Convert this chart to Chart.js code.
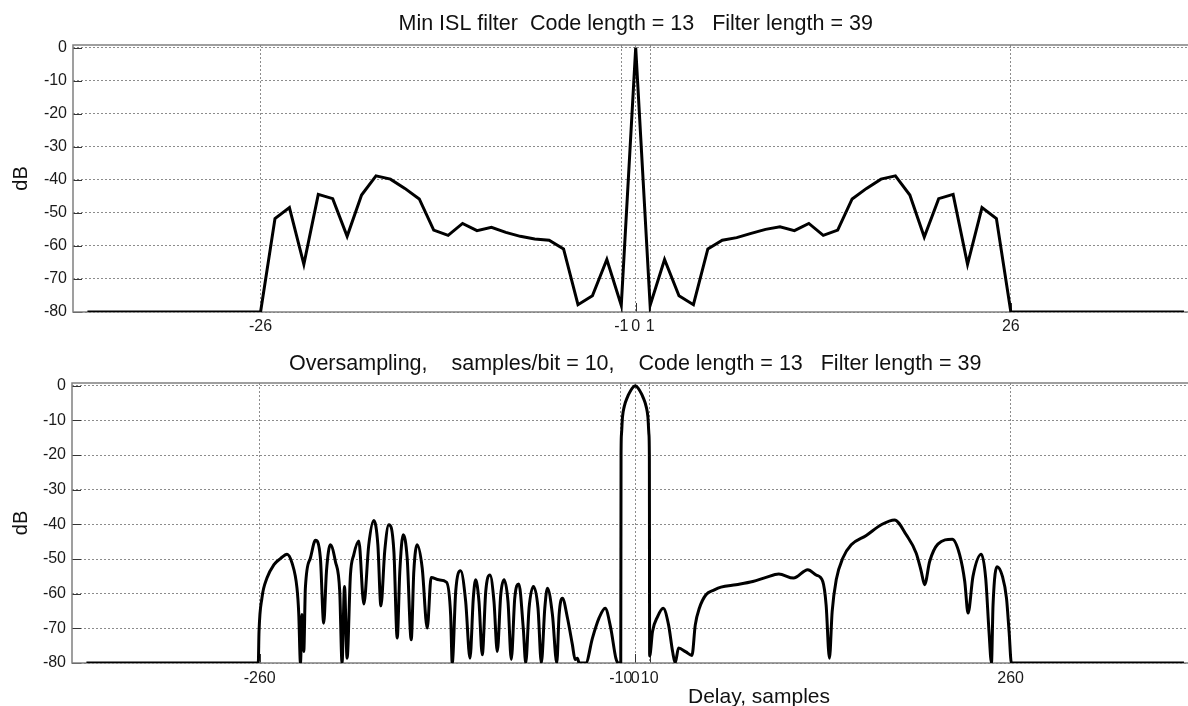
<!DOCTYPE html>
<html>
<head>
<meta charset="utf-8">
<script src="https://cdn.jsdelivr.net/npm/chart.js@4/dist/chart.umd.min.js"></script>
<style>
  html, body { margin: 0; padding: 0; background: #fff; overflow: hidden; width: 1188px; height: 706px; }
  #topChart { position: absolute; left: 0; top: 0; }
  #bottomChart { position: absolute; left: 0; top: 340px; }
  #xlabel { position: absolute; left: 688px; top: 684px; font: 21px "Liberation Sans", Arial, sans-serif; line-height: 23px; color: #111; white-space: nowrap; }
</style>
</head>
<body>
<canvas id="topChart" width="1200" height="340"></canvas>
<canvas id="bottomChart" width="1200" height="366"></canvas>
<div id="xlabel">Delay, samples</div>
<script>
const topTitle = 'Min ISL filter  Code length = 13   Filter length = 39';
const bottomTitle = 'Oversampling,    samples/bit = 10,    Code length = 13   Filter length = 39';
const yLabel = 'dB';
const yTicks = [0, -10, -20, -30, -40, -50, -60, -70, -80];
const topXTicks = [-26, -1, 0, 1, 26];
const bottomXTicks = [-260, -10, 0, 10, 260];

// top panel: one value per delay (samples)
const topDelay = [-38, -26, -25, -24, -23, -22, -21, -20, -19, -18, -17, -16, -15, -14, -13,
  -12, -11, -10, -9, -8, -7, -6, -5, -4, -3, -2, -1, 0, 1, 2, 3, 4, 5, 6, 7, 8, 9, 10,
  11, 12, 13, 14, 15, 16, 17, 18, 19, 20, 21, 22, 23, 24, 25, 26, 38];
const topDb = [-80, -80, -51.7, -48.4, -65.6, -44.4, -45.7, -57.1, -44.6, -38.8, -39.8, -42.6, -45.8, -55.2, -56.8,
  -53.2, -55.4, -54.4, -55.9, -57.1, -57.9, -58.3, -60.9, -77.8, -75.1, -64.1, -78.0, 0, -78.0, -64.1, -75.1, -77.8, -60.9, -58.3, -57.5, -56.2, -55.0, -54.2,
  -55.4, -53.2, -56.8, -55.2, -45.8, -42.6, -39.8, -38.8, -44.6, -57.3, -45.7, -44.4, -65.6, -48.4, -51.7, -80, -80];

// bottom panel: oversampled response
const bottomDelay = [-380, -261, -260.5, -258.5, -255, -250.3, -245.7, -241.1, -237.6, -234.2,
  -233, -231.8, -230.7, -229.5, -228.4, -224.9, -221.4, -218, -215.7, -213.8,
  -211.1, -207.6, -204.6, -203, -201.3, -199.5, -197.2, -194.9, -191.4, -187.9,
  -184.5, -181, -178.2, -176.1, -173.4, -170.6, -167.1, -164.8, -163, -160.7,
  -157.9, -155.1, -153.3, -151, -147.5, -144, -141.3, -135.9, -130.6, -127.8,
  -126.7, -124.3, -120.9, -117.4, -114.4, -112.1, -110.5, -108.2, -105.9, -103.5,
  -100.6, -97.8, -95.5, -93.1, -90.8, -88.1, -85.8, -83.4, -80.6, -77.5,
  -75.8, -73.5, -70.5, -67.3, -65, -62.6, -60.8, -57.3, -54.3, -52.7,
  -50.4, -46.9, -43.5, -41.6, -40, -38.8, -34.2, -29.6, -25, -20.8,
  -16.9, -13.4, -11.8, -10, -9.8, -9.5, -8.8, -7.6, -5.3, -4.2,
  -1.9, 0, 1.9, 4.2, 5.3, 7.6, 8.8, 9.5, 9.8, 10,
  12, 15.5, 19.4, 23.1, 25.9, 27.7, 30, 35.1, 39.3, 41.6,
  44.4, 49, 54.8, 59.4, 69.8, 81.4, 90.6, 99.4, 109.6, 119.5,
  125.3, 129.9, 132.2, 134.5, 136.4, 139.2, 143.8, 149.6, 160, 170.4,
  179.6, 187.7, 194.6, 198.1, 200.4, 203.9, 209.6, 219.6, 224.7, 228.2,
  230.5, 233.9, 239.7, 242.7, 245, 246.7, 247.8, 250.6, 254.3, 257.1,
  258.9, 260.5, 380];
const bottomDb = [-80, -80, -71, -61.3, -55.5, -51.7, -49.9, -48.6, -51.2, -58.4,
  -65.6, -80, -66, -76.7, -58.4, -49.7, -44.6, -49.7, -68.5, -53.6,
  -45.9, -50.7, -59.4, -80, -57.9, -78.6, -54.6, -48.8, -44.8, -63,
  -45.9, -38.9, -45.9, -63.5, -47.5, -40.1, -47.8, -72.8, -53.6, -43,
  -49.7, -73.3, -53.6, -45.9, -52.6, -69.9, -55.3, -56, -56.7, -66.1,
  -80, -59.4, -53.4, -62.2, -78.6, -61.3, -56, -62.2, -77.6, -59.4,
  -54.6, -62.2, -76.7, -60.3, -56, -62.2, -79, -61.3, -57.2, -70,
  -80, -64.2, -57.9, -64.2, -80, -64.2, -58.4, -66.1, -80, -66.1,
  -61.3, -67, -74.7, -79, -78.6, -80, -80, -72.8, -67, -64.2,
  -70, -78.6, -80, -80, -20, -14, -9, -6, -3.2, -2.2,
  -0.6, 0, -0.6, -2.2, -3.2, -6, -9, -14, -20, -78,
  -70.9, -66.6, -64.2, -69, -76.7, -80, -75.7, -76.8, -77.8, -69,
  -64.2, -60.3, -58.9, -58.1, -57.4, -56.5, -55.3, -54.3, -55.5, -53.1,
  -54.6, -56.5, -63.2, -78.6, -65.1, -56, -49.7, -45.9, -43.2, -40.1,
  -38.7, -43, -48.3, -53.6, -57.4, -50.7, -45.7, -44.3, -48.8, -56.5,
  -65.6, -55, -48.6, -55.5, -70.9, -80, -63.2, -52.2, -55, -61.3,
  -70.9, -80, -80];

const FONT = '"Liberation Sans", Arial, Helvetica, sans-serif';

function fixedTicks(values) {
  return function(scale) {
    scale.ticks = values.map(v => ({ value: v }));
  };
}

// box around the axes and short inward tick marks, MATLAB style
const framePlugin = {
  id: 'frame',
  beforeDatasetsDraw(chart) {
    const { ctx, chartArea: a, scales } = chart;
    ctx.save();
    ctx.strokeStyle = '#333';
    ctx.lineWidth = 1;
    scales.y.ticks.forEach(t => {
      const y = Math.round(scales.y.getPixelForValue(t.value)) + 0.5;
      ctx.beginPath();
      ctx.moveTo(a.left, y);
      ctx.lineTo(a.left + 9, y);
      ctx.stroke();
    });
    scales.x.ticks.forEach(t => {
      const x = Math.round(scales.x.getPixelForValue(t.value)) + 0.5;
      ctx.beginPath();
      ctx.moveTo(x, a.bottom);
      ctx.lineTo(x, a.bottom - 9);
      ctx.stroke();
    });
    ctx.strokeStyle = '#808080';
    ctx.lineWidth = 1.5;
    ctx.strokeRect(a.left, a.top, a.right - a.left, a.bottom - a.top);
    ctx.restore();
  }
};

function makeChart(id, title, titlePad, xs, ys, xRange, xTicks, xAxisHeight, xTickPad, yAxisWidth, smooth) {
  const ctx = document.getElementById(id).getContext('2d');
  return new Chart(ctx, {
    type: 'line',
    data: {
      datasets: [{
        data: xs.map((x, i) => ({ x: x, y: ys[i] })),
        borderColor: '#000',
        borderWidth: 3,
        pointRadius: 0,
        tension: 0,
        cubicInterpolationMode: smooth ? 'monotone' : 'default',
        fill: false
      }]
    },
    options: {
      responsive: false,
      animation: false,
      layout: { padding: { left: 0, right: 1.6, top: 0, bottom: 0 } },
      plugins: {
        legend: { display: false },
        tooltip: { enabled: false },
        title: {
          display: true,
          fullSize: false,
          text: title,
          color: '#111',
          font: { family: FONT, size: 21.5, weight: 'normal' },
          padding: titlePad
        }
      },
      scales: {
        x: {
          type: 'linear',
          min: xRange[0],
          max: xRange[1],
          afterBuildTicks: fixedTicks(xTicks),
          afterFit: s => { s.height = xAxisHeight; },
          grid: { color: '#8c8c8c', lineWidth: 1, drawTicks: false },
          border: { display: false, dash: [2, 2] },
          ticks: {
            autoSkip: false, maxRotation: 0, padding: xTickPad,
            color: '#1a1a1a', font: { family: FONT, size: 16 }
          }
        },
        y: {
          min: -80,
          max: 0.8,
          afterBuildTicks: fixedTicks(yTicks),
          afterFit: s => { s.width = yAxisWidth; },
          grid: { color: '#8c8c8c', lineWidth: 1, drawTicks: false },
          border: { display: false, dash: [2, 2] },
          ticks: {
            padding: 6,
            color: '#1a1a1a', font: { family: FONT, size: 16 }
          },
          title: {
            display: true,
            text: yLabel,
            color: '#111',
            font: { family: FONT, size: 20 },
            padding: { top: 9, bottom: 0 }
          }
        }
      }
    },
    plugins: [framePlugin]
  });
}

makeChart('topChart', topTitle, { top: 11.1, bottom: 8.1 }, topDelay, topDb,
  [-39, 39], topXTicks, 28, 5, 73, false);
makeChart('bottomChart', bottomTitle, { top: 11.1, bottom: 6.1 }, bottomDelay, bottomDb,
  [-390, 390], bottomXTicks, 43, 6, 72, true);
</script>
</body>
</html>
